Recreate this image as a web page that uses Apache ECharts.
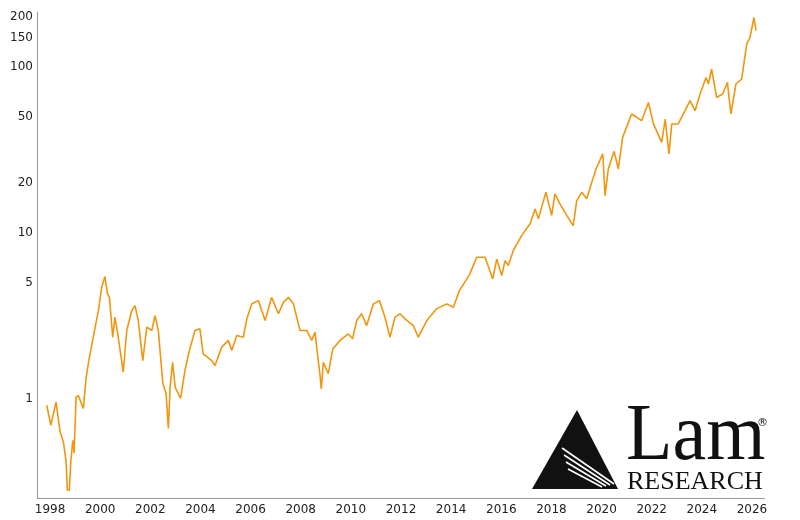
<!DOCTYPE html>
<html>
<head>
<meta charset="utf-8">
<script src="https://cdn.jsdelivr.net/npm/echarts@6/dist/echarts.min.js"></script>
<style>html,body{margin:0;padding:0;background:#fff}#chart{width:800px;height:520px}</style>
</head>
<body>
<div id="chart"></div>
<script>
// price history (decimal year, price)
var years = [1997.87,1998.03,1998.24,1998.40,1998.53,1998.64,1998.69,1998.77,1998.83,1998.91,1998.96,1999.04,1999.13,1999.33,1999.44,1999.57,1999.80,1999.93,2000.06,2000.19,2000.29,2000.37,2000.50,2000.59,2000.72,2000.92,2001.06,2001.26,2001.39,2001.52,2001.70,2001.86,2002.06,2002.19,2002.32,2002.50,2002.63,2002.72,2002.79,2002.89,2002.99,2003.21,2003.38,2003.56,2003.78,2003.98,2004.11,2004.45,2004.58,2004.85,2005.11,
  2005.25,2005.45,2005.71,2005.85,2006.05,2006.31,2006.58,2006.84,2007.11,2007.31,2007.51,2007.71,2007.97,2008.24,2008.44,2008.57,2008.66,2008.77,2008.82,2008.90,2009.10,2009.28,2009.57,2009.90,2010.07,2010.23,2010.43,2010.63,2010.90,2011.14,2011.36,2011.56,2011.76,2011.96,2012.16,2012.49,2012.69,2013.03,2013.42,2013.82,2014.09,2014.33,
  2014.75,2015.02,2015.35,2015.66,2015.82,2016.02,2016.15,2016.28,2016.48,2016.81,2017.15,2017.35,2017.48,2017.78,2018.01,2018.14,2018.34,2018.61,2018.87,2019.01,2019.21,2019.41,2019.61,2019.78,2020.05,2020.14,2020.27,2020.50,2020.67,2020.84,2021.07,2021.20,
  2021.60,2021.87,2022.07,2022.40,2022.54,2022.69,2022.80,2023.06,2023.33,2023.53,2023.73,2023.93,2024.17,2024.26,2024.39,2024.59,2024.83,2025.02,2025.16,2025.36,2025.59,2025.79,2025.92,2026.08,2026.16];
var prices = [0.91,0.69,0.95,0.63,0.55,0.42,0.28,0.28,0.42,0.56,0.47,1.02,1.04,0.87,1.34,1.77,2.69,3.39,4.68,5.43,4.29,4.07,2.34,3.09,2.34,1.44,2.57,3.39,3.63,2.95,1.69,2.69,2.57,3.16,2.57,1.23,1.07,0.66,1.17,1.65,1.17,1.00,1.47,1.95,2.57,2.63,1.86,1.69,1.58,2.04,2.24,
  1.95,2.40,2.34,3.02,3.72,3.89,2.95,4.07,3.24,3.80,4.07,3.72,2.57,2.57,2.24,2.51,1.90,1.38,1.14,1.65,1.41,1.99,2.24,2.45,2.29,2.95,3.24,2.75,3.72,3.89,3.09,2.34,3.09,3.24,3.02,2.75,2.34,2.95,3.47,3.72,3.55,4.47,
  5.64,7.10,7.10,5.26,6.92,5.51,6.78,6.33,7.79,9.59,11.3,13.9,12.1,17.5,12.7,17.1,14.9,12.7,11.0,15.6,17.5,16.0,20.1,24.2,29.8,16.7,24.2,30.9,24.2,37.5,46.2,51.9,
  47.3,60.9,45.2,35.0,48.4,29.8,45.2,45.2,54.3,62.4,54.3,68.5,86.2,78.7,96.9,65.3,68.5,80.4,51.9,78.7,84.3,137,150,198,165];
var yTicks = [1, 5, 10, 20, 50, 100, 150, 200];

var chart = echarts.init(document.getElementById('chart'));

option = {
  animation: false,
  grid: { left: 37.5, right: 35.5, top: 12, bottom: 22 },
  xAxis: {
    type: 'value', min: 1997.5, max: 2026.5, interval: 0.5,
    axisLine: { onZero: false, lineStyle: { color: '#999' } },
    axisTick: { show: false },
    splitLine: { show: false },
    axisLabel: {
      color: '#222', fontSize: 12, fontFamily: 'DejaVu Sans', margin: 6,
      formatter: function (v) { return (v % 2 === 0) ? String(v) : ''; }
    }
  },
  yAxis: {
    type: 'value', min: -0.6, max: 2.33,
    axisLine: { show: true, onZero: false, lineStyle: { color: '#999' } },
    axisTick: { show: false },
    axisLabel: { show: false },
    splitLine: { show: false }
  },
  series: [{
    type: 'line',
    showSymbol: false,
    data: years.map(function (y, i) { return [y, Math.log10(prices[i])]; }),
    lineStyle: { color: '#f0960f', width: 1.6 }
  }]
};
chart.setOption(option);

// log tick labels, placed through the axis scale
var els = yTicks.map(function (t) {
  var p = chart.convertToPixel({ yAxisIndex: 0 }, Math.log10(t));
  return { type: 'text', x: 33, y: p, style: { text: String(t), fill: '#222', font: '12px DejaVu Sans', align: 'right', verticalAlign: 'middle' } };
});

// Lam Research logo
els.push({ type: 'polygon', shape: { points: [[577, 410], [532, 489], [618, 489]] }, style: { fill: '#111' } });
[0, 1, 2, 3].forEach(function (k) {
  els.push({ type: 'line', shape: { x1: 562 + k * 2, y1: 448 + k * 7, x2: 614 - k * 4, y2: 484 + k * 1 }, style: { stroke: '#fff', lineWidth: 1.6 } });
});
els.push({ type: 'text', x: 626, y: 478, scaleX: 0.95, style: { text: 'Lam', fill: '#111', font: '80px Liberation Serif', verticalAlign: 'bottom' } });
els.push({ type: 'text', x: 627, y: 469, style: { text: 'RESEARCH', fill: '#111', font: '26px Liberation Serif' } });
els.push({ type: 'text', x: 757, y: 418, style: { text: '®', fill: '#111', font: '11px DejaVu Sans' } });

chart.setOption({ graphic: els });
</script>
</body>
</html>
